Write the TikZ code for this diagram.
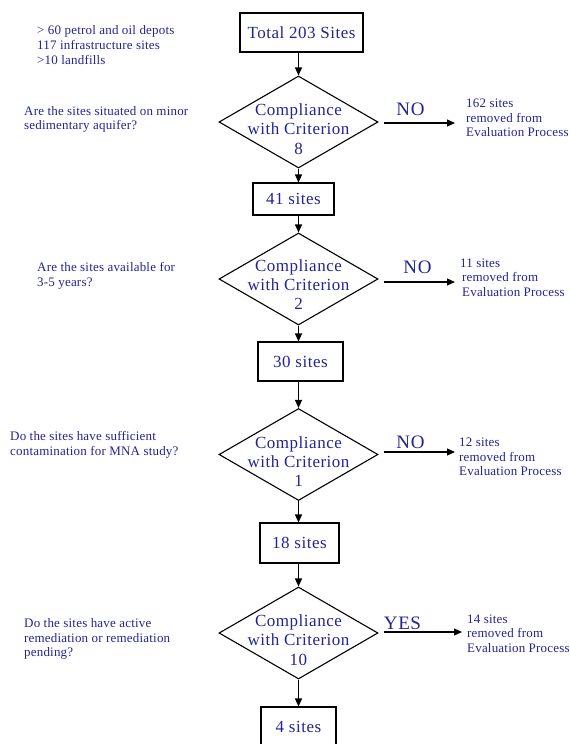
\documentclass[tikz,border=0pt]{standalone}
\usepackage{fontspec}
\setmainfont{Liberation Serif}
\newfontfamily\bigf[LetterSpace=3]{Liberation Serif}
\newfontfamily\smallf[LetterSpace=1.5]{Liberation Serif}
\usetikzlibrary{shapes.geometric,arrows.meta}
\definecolor{txt}{RGB}{35,35,150}
\tikzset{
  box/.style={draw, line width=1.1pt, inner sep=0pt, text=txt, font=\bigf\fontsize{17}{20}\selectfont},
  dia/.style={draw, diamond, line width=1.1pt, inner sep=0pt, minimum width=159pt, minimum height=92pt},
  dtext/.style={text=txt, align=center, inner sep=0pt, font=\bigf\fontsize{17}{19.3}\selectfont},
  small/.style={text=txt, align=left, inner sep=0pt, anchor=west, font=\smallf\fontsize{13}{14.7}\selectfont},
  ans/.style={text=txt, inner sep=0pt, font=\bigf\fontsize{19}{22}\selectfont},
  arr/.style={-{Triangle[length=8pt,width=7pt]}, line width=1.1pt}
}
\begin{document}
\begin{tikzpicture}[x=1pt,y=-1pt]
\path[use as bounding box] (0,0) rectangle (570,744);
\clip (0,0) rectangle (570,744);

% boxes
\node[box, minimum width=123pt, minimum height=39pt] (t) at (301.5,32.5) {Total 203 Sites};
\node[box, minimum width=81pt, minimum height=32pt] (b41) at (293.5,199) {41 sites};
\node[box, minimum width=85pt, minimum height=39pt] (b30) at (300.5,361.5) {30 sites};
\node[box, minimum width=79pt, minimum height=40pt] (b18) at (299.5,543) {18 sites};
\node[box, minimum width=75pt, minimum height=39pt] (b4) at (298.5,726.5) {4 sites};

% diamonds
\node[dia] (d1) at (298.5,122) {};
\node[dia] (d2) at (298.5,279) {};
\node[dia] (d3) at (298.5,454.5) {};
\node[dia] (d4) at (298.5,633) {};
\node[dtext] (d1t) at (298.5,129) {Compliance\\with Criterion\\8};
\node[dtext] (d2t) at (298.5,284.5) {Compliance\\with Criterion\\2};
\node[dtext] (d3t) at (298.5,461.5) {Compliance\\with Criterion\\1};
\node[dtext] (d4t) at (298.5,640) {Compliance\\with Criterion\\10};

% vertical arrows
\draw[arr] (d1.north |- t.south) -- (d1.north);
\draw[arr] (d1.south) -- (d1.south |- b41.north);
\draw[arr] (d2.north |- b41.south) -- (d2.north);
\draw[arr] (d2.south) -- (d2.south |- b30.north);
\draw[arr] (d3.north |- b30.south) -- (d3.north);
\draw[arr] (d3.south) -- (d3.south |- b18.north);
\draw[arr] (d4.north |- b18.south) -- (d4.north);
\draw[arr] (d4.south) -- (d4.south |- b4.north);

% horizontal arrows
\coordinate (e1) at (455,123);
\coordinate (e2) at (455,282);
\coordinate (e3) at (455,452);
\coordinate (e4) at (462,632);
\draw[arr] ([xshift=5pt]d1.east |- e1) -- (e1);
\draw[arr] ([xshift=5pt]d2.east |- e2) -- (e2);
\draw[arr] ([xshift=5pt]d3.east |- e3) -- (e3);
\draw[arr] ([xshift=5pt]d4.east |- e4) -- (e4);

% answers
\node[ans] (a1) at (410.5,109) {NO};
\node[ans] (a2) at (417.5,267) {NO};
\node[ans] (a3) at (410.5,442) {NO};
\node[ans] (a4) at (402.5,623) {YES};

% right texts
\node[small] (r1) at (466,118) {162 sites\\removed from\\Evaluation Process};
\node[small] (r2) at (460,277.5) {11 sites\\\hspace*{2pt}removed from\\\hspace*{2pt}Evaluation Process};
\node[small] (r3) at (459,457) {12 sites\\removed from\\Evaluation Process};
\node[small] (r4) at (467,633.5) {14 sites\\removed from\\Evaluation Process};

% left texts
\node[small] (l0) at (37,45) {> 60 petrol and oil depots\\117 infrastructure sites\\>10 landfills};
\node[small] (q1) at (24,119.5) {Are the sites situated on minor\\sedimentary aquifer?};
\node[small] (q2) at (37,275.5) {Are the sites available for\\3-5 years?};
\node[small] (q3) at (10,444.5) {Do the sites have sufficient\\contamination for MNA study?};
\node[small] (q4) at (24,639) {Do the sites have active\\remediation or remediation\\pending?};
\end{tikzpicture}
\end{document}
